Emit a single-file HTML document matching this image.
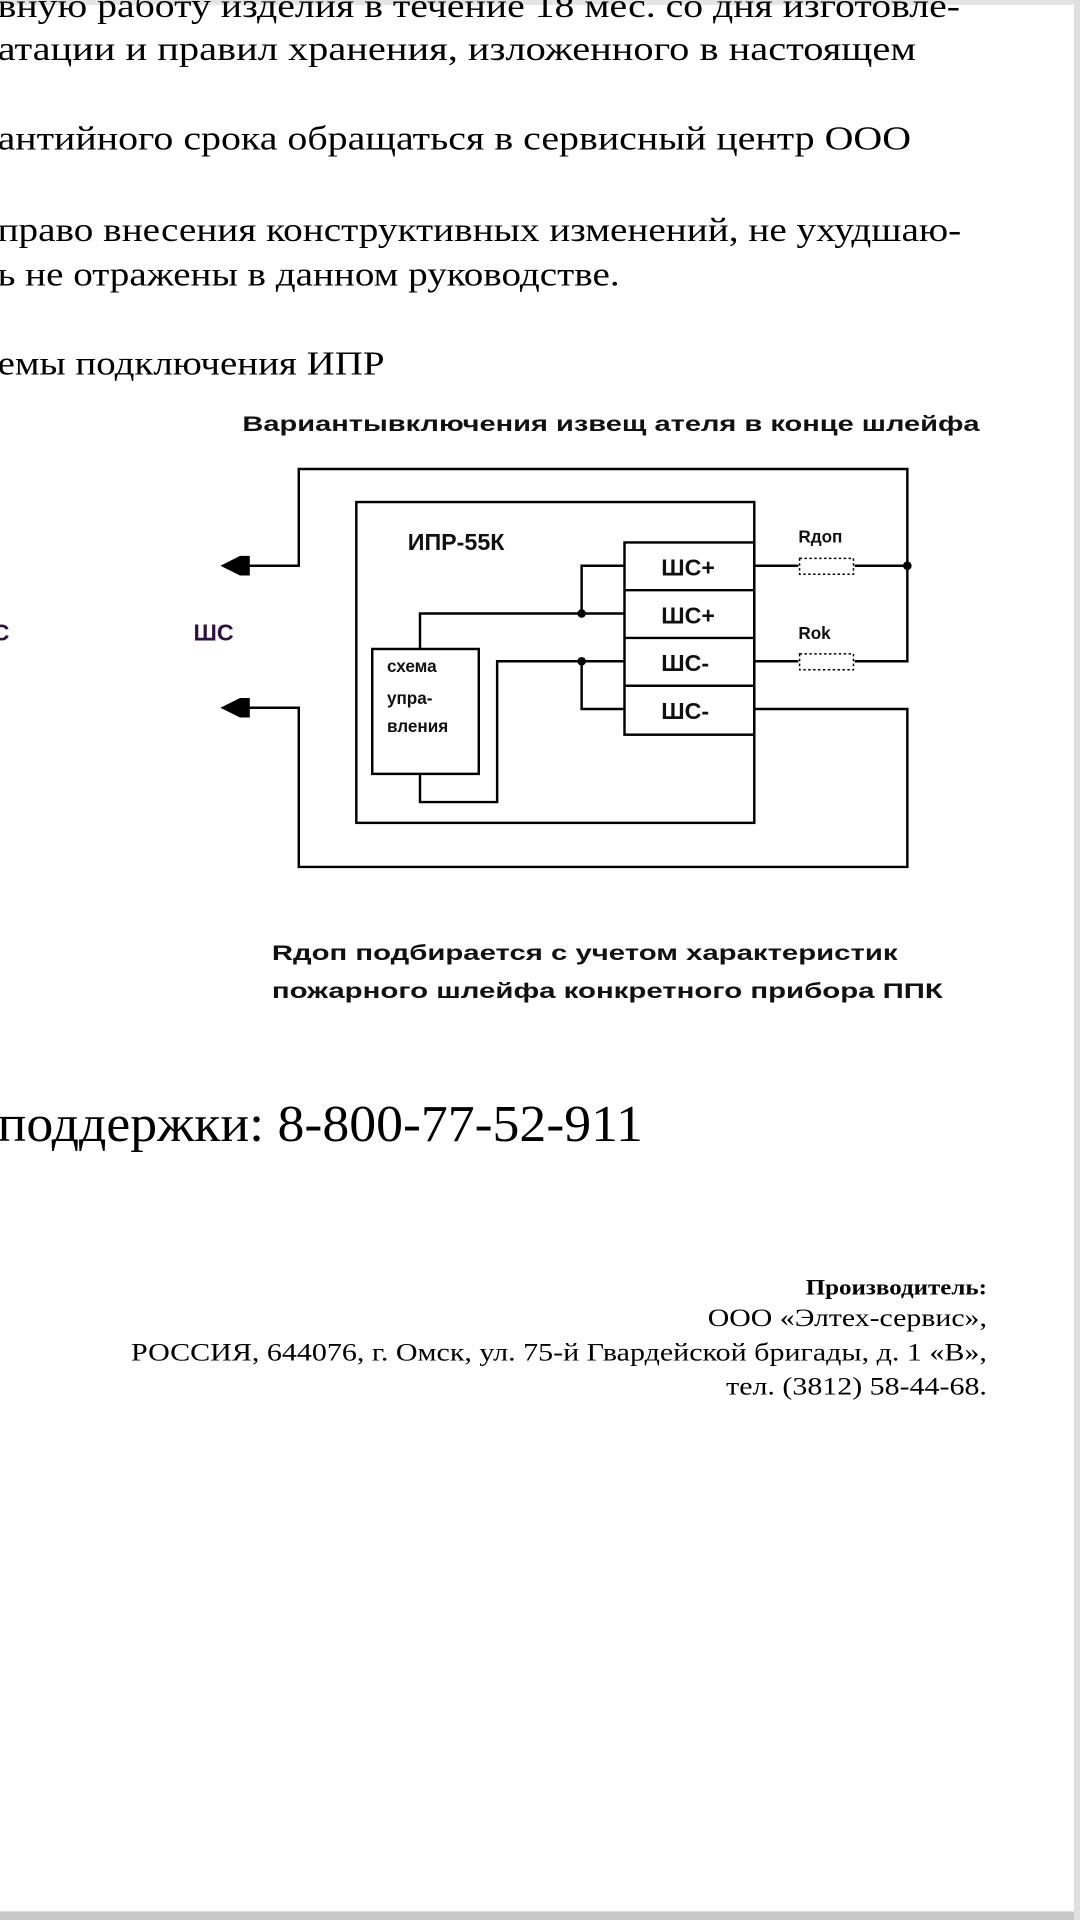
<!DOCTYPE html>
<html><head><meta charset="utf-8"><style>
html,body{margin:0;padding:0;background:#fff;width:1080px;height:1920px;overflow:hidden}
svg{display:block}
.t{font-family:"Liberation Serif",serif;font-size:28px;fill:#000}
.a{font-family:"Liberation Sans",sans-serif;font-weight:bold;fill:#111}
</style></head><body>
<svg width="1080" height="1920" viewBox="0 0 882 1568" xmlns="http://www.w3.org/2000/svg">
<rect x="0" y="0" width="882" height="4" fill="#e4e4e4"/>
<text class="t" x="-2" y="14" textLength="786" lengthAdjust="spacingAndGlyphs">вную работу изделия в течение 18 мес. со дня изготовле-</text>
<text class="t" x="-2" y="49" textLength="750" lengthAdjust="spacingAndGlyphs">атации и правил хранения, изложенного  в настоящем</text>
<text class="t" x="-2" y="122" textLength="746" lengthAdjust="spacingAndGlyphs">антийного срока обращаться в сервисный центр ООО</text>
<text class="t" x="-2" y="197" textLength="787" lengthAdjust="spacingAndGlyphs">право внесения конструктивных изменений, не ухудшаю-</text>
<text class="t" x="-2" y="233" textLength="508" lengthAdjust="spacingAndGlyphs">ь не отражены в данном руководстве.</text>
<text class="t" x="-2" y="306" textLength="316" lengthAdjust="spacingAndGlyphs">емы подключения ИПР</text>

<text class="a" x="198" y="352" font-size="17" textLength="602" lengthAdjust="spacingAndGlyphs">Вариантывключения извещ ателя в конце шлейфа</text>

<g stroke="#000" stroke-width="2" fill="none">
<polyline points="200,462 244,462 244,383 741,383 741,540 698,540"/>
<polyline points="200,578 244,578 244,708 741,708 741,579 616,579"/>
<rect x="291" y="410" width="325" height="262"/>
<rect x="510" y="443" width="106" height="157"/>
<line x1="510" y1="482" x2="616" y2="482"/>
<line x1="510" y1="521" x2="616" y2="521"/>
<line x1="510" y1="560" x2="616" y2="560"/>
<line x1="616" y1="462" x2="652" y2="462"/>
<line x1="698" y1="462" x2="741" y2="462"/>
<line x1="616" y1="540" x2="652" y2="540"/>
<polyline points="510,462 475,462 475,501"/>
<polyline points="510,501 343,501 343,530"/>
<polyline points="510,540 406,540 406,655 343,655 343,632"/>
<polyline points="475,540 475,579 510,579"/>
<rect x="304" y="530" width="87" height="102"/>
</g>
<g stroke="#000" stroke-width="1.2" stroke-dasharray="2,2" fill="none">
<rect x="653" y="456" width="44" height="13"/>
<rect x="653" y="534" width="44" height="13"/>
</g>
<g fill="#000">
<circle cx="741" cy="462" r="3.5"/>
<circle cx="475" cy="501" r="3.5"/>
<circle cx="475" cy="540" r="3.5"/>
<polygon points="180,462 196,454 204,454 204,470 196,470"/>
<polygon points="180,578 196,570 204,570 204,586 196,586"/>
</g>
<g class="a">
<text x="333" y="449" font-size="19">ИПР-55К</text>
<text x="540" y="470" font-size="19">ШС+</text>
<text x="540" y="509" font-size="19">ШС+</text>
<text x="540" y="548" font-size="19">ШС-</text>
<text x="540" y="587" font-size="19">ШС-</text>
<text x="652" y="443" font-size="14">Rдоп</text>
<text x="652" y="522" font-size="14">Rok</text>
<text x="158" y="523" font-size="19" fill="#301040">ШС</text>
<text x="-6" y="523" font-size="19" fill="#301040">С</text>
<text x="316" y="549" font-size="14">схема</text>
<text x="316" y="575" font-size="14">упра-</text>
<text x="316" y="598" font-size="14">вления</text>
<text x="222" y="784" font-size="17" textLength="511" lengthAdjust="spacingAndGlyphs">Rдоп подбирается с учетом характеристик</text>
<text x="222" y="815" font-size="17" textLength="548" lengthAdjust="spacingAndGlyphs">пожарного шлейфа конкретного прибора ППК</text>
</g>
<text class="t" x="-2" y="932" font-size="42" style="font-size:42px" textLength="527" lengthAdjust="spacingAndGlyphs">поддержки: 8-800-77-52-911</text>
<g font-family="Liberation Serif,serif" font-size="21" fill="#000">
<text x="658" y="1057" font-weight="bold" font-size="18" textLength="148" lengthAdjust="spacingAndGlyphs">Производитель:</text>
<text x="578" y="1083" textLength="228" lengthAdjust="spacingAndGlyphs">ООО «Элтех-сервис»,</text>
<text x="107" y="1111" textLength="699" lengthAdjust="spacingAndGlyphs">РОССИЯ, 644076, г. Омск, ул. 75-й Гвардейской бригады, д. 1 «В»,</text>
<text x="593" y="1139" textLength="213" lengthAdjust="spacingAndGlyphs">тел. (3812) 58-44-68.</text>
</g>
<rect x="0" y="1561" width="882" height="7" fill="#c8c8c8"/>
<rect x="877" y="0" width="5" height="1568" fill="#e0e0e0"/>
</svg>
</body></html>
